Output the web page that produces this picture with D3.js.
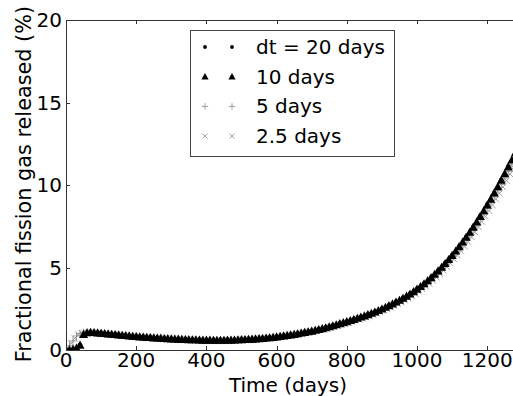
<!DOCTYPE html>
<html>
<head>
<meta charset="utf-8">
<script src="https://cdn.jsdelivr.net/npm/d3@7"></script>
<style>
  body { margin: 0; background: #fff; }
  svg { display: block; }
  text { font-family: "DejaVu Sans", sans-serif; fill: #000; }
</style>
</head>
<body>
<svg id="chart" width="513" height="396"></svg>
<script>
// time step of each run (days); sample i sits at t = start + i * step
const dots20 = { start: 0, step: 20 };
const tri10 = { start: 0, step: 10 };
const plus5 = { start: 0, step: 10 };
const cross25 = { start: 5, step: 10 };

const legendLabels = ["dt = 20 days", "10 days", "5 days", "2.5 days"];
const xTicks = [0, 200, 400, 600, 800, 1000, 1200];
const yTicks = [0, 5, 10, 15, 20];

// fractional FGR (%)
const dotsValues = [
  0, 0.03, 0.3, 1.05, 1.06, 1.02, 0.98, 0.94, 0.9, 0.86,
  0.82, 0.79, 0.76, 0.73, 0.7, 0.68, 0.66, 0.64, 0.62, 0.61,
  0.6, 0.59, 0.59, 0.6, 0.61, 0.63, 0.65, 0.68, 0.71, 0.75,
  0.8, 0.86, 0.92, 0.99, 1.07, 1.15, 1.25, 1.35, 1.47, 1.6,
  1.72, 1.86, 2.0, 2.15, 2.31, 2.49, 2.69, 2.91, 3.14, 3.4,
  3.69, 4.02, 4.39, 4.8, 5.25, 5.74, 6.27, 6.84, 7.45, 8.1,
  8.79, 9.52, 10.29, 11.1, 11.95
];
const triValues = [
  0, 0.01, 0.04, 0.12, 0.3, 0.95, 1.05, 1.07, 1.06, 1.04,
  1.02, 1.0, 0.98, 0.96, 0.94, 0.92, 0.9, 0.88, 0.86, 0.84,
  0.82, 0.8, 0.79, 0.77, 0.76, 0.74, 0.73, 0.72, 0.7, 0.69,
  0.68, 0.67, 0.66, 0.65, 0.64, 0.63, 0.62, 0.62, 0.61, 0.6,
  0.6, 0.6, 0.59, 0.59, 0.59, 0.59, 0.6, 0.6, 0.61, 0.62,
  0.63, 0.64, 0.65, 0.66, 0.68, 0.69, 0.71, 0.73, 0.75, 0.77,
  0.8, 0.83, 0.86, 0.89, 0.92, 0.95, 0.99, 1.03, 1.07, 1.11,
  1.15, 1.2, 1.25, 1.3, 1.35, 1.41, 1.47, 1.53, 1.6, 1.66,
  1.72, 1.79, 1.86, 1.93, 2.0, 2.07, 2.15, 2.23, 2.31, 2.4,
  2.49, 2.59, 2.69, 2.8, 2.91, 3.02, 3.14, 3.27, 3.4, 3.54,
  3.69, 3.85, 4.02, 4.2, 4.39, 4.59, 4.8, 5.02, 5.25, 5.49,
  5.74, 6.0, 6.27, 6.55, 6.84, 7.14, 7.45, 7.77, 8.1, 8.44,
  8.79, 9.15, 9.52, 9.9, 10.29, 10.69, 11.1, 11.52, 11.95
];
const plusValues = [
  0, 0.25, 0.55, 0.85, 1.0, 1.05, 1.06, 1.06, 1.05, 1.03,
  1.01, 0.99, 0.97, 0.95, 0.93, 0.91, 0.89, 0.87, 0.85, 0.83,
  0.81, 0.8, 0.78, 0.77, 0.75, 0.74, 0.72, 0.71, 0.7, 0.69,
  0.68, 0.67, 0.66, 0.65, 0.64, 0.63, 0.62, 0.61, 0.61, 0.6,
  0.6, 0.59, 0.59, 0.59, 0.59, 0.59, 0.59, 0.6, 0.6, 0.61,
  0.62, 0.63, 0.64, 0.65, 0.67, 0.68, 0.7, 0.72, 0.74, 0.76,
  0.79, 0.82, 0.85, 0.88, 0.91, 0.94, 0.98, 1.02, 1.06, 1.1,
  1.14, 1.18, 1.23, 1.28, 1.33, 1.38, 1.43, 1.49, 1.56, 1.62,
  1.68, 1.74, 1.81, 1.88, 1.95, 2.02, 2.1, 2.17, 2.25, 2.34,
  2.43, 2.52, 2.62, 2.73, 2.84, 2.94, 3.06, 3.19, 3.31, 3.45,
  3.6, 3.75, 3.92, 4.09, 4.28, 4.47, 4.68, 4.89, 5.12, 5.35,
  5.6, 5.85, 6.11, 6.39, 6.67, 6.96, 7.26, 7.58, 7.9, 8.23,
  8.57, 8.92, 9.28, 9.65, 10.03, 10.42, 10.82, 11.23, 11.65
];
const crossValues = [
  0.12, 0.4, 0.7, 0.93, 1.03, 1.05, 1.06, 1.05, 1.04, 1.02,
  1.0, 0.98, 0.96, 0.94, 0.92, 0.9, 0.88, 0.86, 0.84, 0.82,
  0.8, 0.79, 0.77, 0.76, 0.74, 0.73, 0.71, 0.7, 0.69, 0.68,
  0.67, 0.66, 0.65, 0.64, 0.63, 0.62, 0.61, 0.61, 0.6, 0.6,
  0.59, 0.59, 0.59, 0.59, 0.59, 0.59, 0.6, 0.6, 0.61, 0.62,
  0.63, 0.64, 0.65, 0.66, 0.68, 0.69, 0.71, 0.73, 0.75, 0.78,
  0.8, 0.83, 0.86, 0.89, 0.92, 0.96, 1.0, 1.04, 1.08, 1.12,
  1.13, 1.17, 1.22, 1.26, 1.31, 1.36, 1.41, 1.47, 1.54, 1.6,
  1.65, 1.72, 1.79, 1.85, 1.92, 1.99, 2.06, 2.14, 2.22, 2.3,
  2.39, 2.49, 2.58, 2.69, 2.79, 2.9, 3.01, 3.14, 3.26, 3.4,
  3.54, 3.7, 3.86, 4.03, 4.21, 4.41, 4.61, 4.82, 5.04, 5.27,
  5.51, 5.76, 6.02, 6.29, 6.57, 6.85, 7.15, 7.46, 7.78, 8.1,
  8.44, 8.78, 9.14, 9.5, 9.88, 10.26, 10.66, 11.06, 11.47
];

const svg = d3.select("#chart");
const margin = { left: 66, top: 20, bottom: 350 };
const xScale = d3.scaleLinear().domain([0, 1280]).range([margin.left, 515.3]);
const yScale = d3.scaleLinear().domain([0, 20]).range([margin.bottom, margin.top]);
const plotW = 513 - margin.left;

svg.append("defs").append("clipPath").attr("id", "plot-clip")
  .append("rect")
  .attr("x", margin.left).attr("y", margin.top)
  .attr("width", plotW).attr("height", margin.bottom - margin.top);

const toPoints = (run, values) =>
  values.map((v, i) => ({ t: run.start + i * run.step, v }));

// marker drawers (size differs a bit between the plot and the legend)
const drawMarker = (g, kind, x, y, k = 1) => {
  if (kind === "dot") {
    g.append("circle").attr("cx", x).attr("cy", y).attr("r", 1.9 * k).attr("fill", "#000");
  } else if (kind === "tri") {
    const s = 3.6 * k;
    g.append("path")
      .attr("d", `M${x},${y - s}L${x + s},${y + s * 0.8}L${x - s},${y + s * 0.8}Z`)
      .attr("fill", "#000");
  } else if (kind === "plus") {
    const s = 3.2 * k;
    g.append("path")
      .attr("d", `M${x - s},${y}H${x + s}M${x},${y - s}V${y + s}`)
      .attr("stroke", "#888").attr("stroke-width", 0.8).attr("fill", "none");
  } else {
    const s = 2.5 * k;
    g.append("path")
      .attr("d", `M${x - s},${y - s}L${x + s},${y + s}M${x - s},${y + s}L${x + s},${y - s}`)
      .attr("stroke", "#888").attr("stroke-width", 0.8).attr("fill", "none");
  }
};

const series = [
  { kind: "cross", pts: toPoints(cross25, crossValues) },
  { kind: "plus", pts: toPoints(plus5, plusValues) },
  { kind: "tri", pts: toPoints(tri10, triValues) },
  { kind: "dot", pts: toPoints(dots20, dotsValues) }
];

const $marks = svg.append("g").attr("clip-path", "url(#plot-clip)");
series.forEach((s) => {
  const g = $marks.append("g");
  s.pts.forEach((p) => drawMarker(g, s.kind, xScale(p.t), yScale(p.v), 1.25));
});

// spines
const spine = "#333";
svg.append("line").attr("x1", margin.left).attr("x2", 513)
  .attr("y1", margin.top + 0.5).attr("y2", margin.top + 0.5).attr("stroke", spine);
svg.append("line").attr("x1", margin.left).attr("x2", 513)
  .attr("y1", margin.bottom + 0.5).attr("y2", margin.bottom + 0.5).attr("stroke", spine);
svg.append("line").attr("x1", margin.left + 0.5).attr("x2", margin.left + 0.5)
  .attr("y1", margin.top).attr("y2", margin.bottom + 1).attr("stroke", spine);

// inward ticks
xTicks.forEach((t) => {
  const x = Math.round(xScale(t)) + 0.5;
  svg.append("line").attr("x1", x).attr("x2", x)
    .attr("y1", margin.bottom).attr("y2", margin.bottom - 4).attr("stroke", spine);
  svg.append("line").attr("x1", x).attr("x2", x)
    .attr("y1", margin.top).attr("y2", margin.top + 4).attr("stroke", spine);
  svg.append("text").attr("x", xScale(t)).attr("y", 367)
    .attr("text-anchor", "middle").style("font-size", "20px").text(t);
});
yTicks.forEach((v) => {
  const y = Math.round(yScale(v)) + 0.5;
  svg.append("line").attr("x1", margin.left).attr("x2", margin.left + 4)
    .attr("y1", y).attr("y2", y).attr("stroke", spine);
  svg.append("text").attr("x", 62).attr("y", yScale(v) + 7)
    .attr("text-anchor", "end").style("font-size", "20px").text(v);
});

// axis labels
svg.append("text").attr("x", 288).attr("y", 392)
  .attr("text-anchor", "middle").style("font-size", "20px").text("Time (days)");
svg.append("text")
  .attr("transform", "translate(31,184) rotate(-90)")
  .attr("text-anchor", "middle").style("font-size", "20.8px")
  .text("Fractional fission gas released (%)");

// legend
const $legend = svg.append("g");
$legend.append("rect").attr("x", 190.5).attr("y", 30.5)
  .attr("width", 204).attr("height", 126)
  .attr("fill", "#fff").attr("stroke", "#444");
const legendKinds = ["dot", "tri", "plus", "cross"];
legendLabels.forEach((label, i) => {
  const y = 47 + i * 29.7;
  drawMarker($legend, legendKinds[i], 205, y);
  drawMarker($legend, legendKinds[i], 232, y);
  $legend.append("text").attr("x", 256).attr("y", y + 7)
    .style("font-size", "20px").text(label);
});
</script>
</body>
</html>
